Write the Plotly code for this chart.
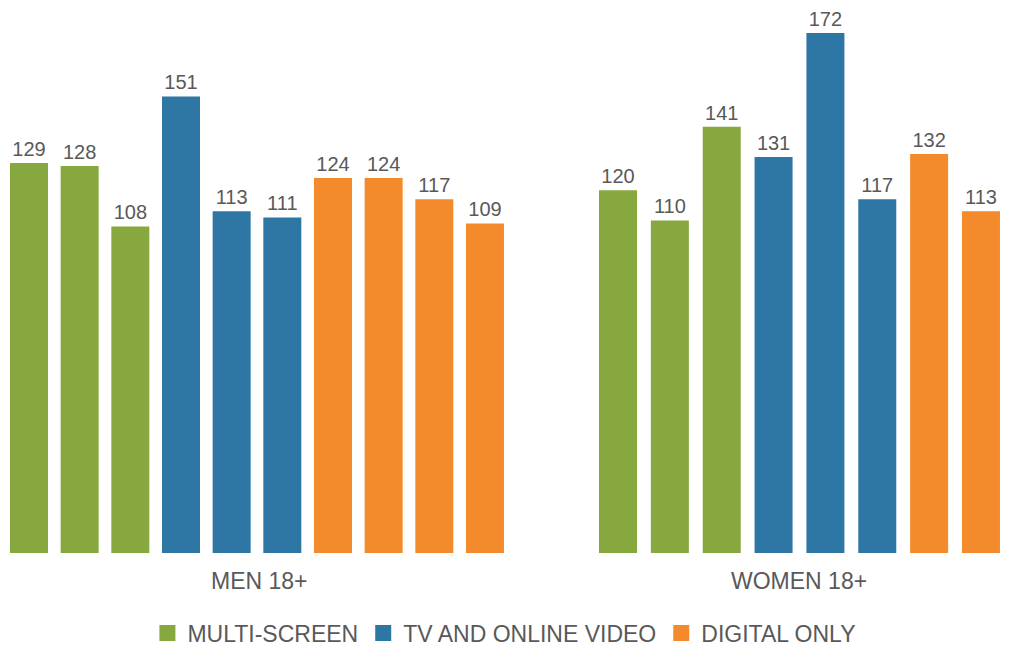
import plotly.graph_objects as go

# ---- data ----
series_names = ["MULTI-SCREEN", "TV AND ONLINE VIDEO", "DIGITAL ONLY"]
series_colors = ["#87A83E", "#2E77A5", "#F38B2D"]
group_labels = ["MEN 18+", "WOMEN 18+"]

men_multi = [129, 128, 108]
men_tv = [151, 113, 111]
men_digital = [124, 124, 117, 109]

women_multi = [120, 110, 141]
women_tv = [131, 172, 117]
women_digital = [132, 113]

men_series = [men_multi, men_tv, men_digital]
women_series = [women_multi, women_tv, women_digital]

TEXT_COLOR = "#595959"
FONT = "Liberation Sans, Arial, sans-serif"

fig = go.Figure()


def add_group(series_list, prefix, xaxis, yaxis, width):
    idx = 0
    for s_i, vals in enumerate(series_list):
        cats = []
        for _ in vals:
            idx += 1
            cats.append(f"{prefix}{idx}")
        fig.add_trace(go.Bar(
            x=cats, y=vals, xaxis=xaxis, yaxis=yaxis,
            marker=dict(color=series_colors[s_i], line=dict(width=0)),
            width=width,
            texttemplate="%{y}", textposition="outside",
            textfont=dict(size=20, color=TEXT_COLOR, family=FONT),
            cliponaxis=False, showlegend=False, hoverinfo="x+y",
            name=series_names[s_i],
        ))


add_group(men_series, "M", "x", "y", 0.75)
add_group(women_series, "W", "x2", "y2", 0.733)

# legend-only traces (square markers)
for name, color in zip(series_names, series_colors):
    fig.add_trace(go.Scatter(
        x=[None], y=[None], mode="markers", name=name,
        marker=dict(symbol="square", size=18, color=color),
        showlegend=True,
    ))

YMAX = 180.27
fig.update_layout(
    width=1001, height=640,
    margin=dict(l=0, r=0, t=0, b=95, autoexpand=False),
    paper_bgcolor="white", plot_bgcolor="white",
    barmode="overlay",
    font=dict(family=FONT, color=TEXT_COLOR),
    xaxis=dict(domain=[0.0, 0.5018], range=[-0.4145, 9.5], showticklabels=False,
               showgrid=False, zeroline=False, showline=False, ticks=""),
    xaxis2=dict(domain=[0.5835, 0.9979], range=[-0.5, 7.5], showticklabels=False,
                showgrid=False, zeroline=False, showline=False, ticks="", anchor="y2"),
    yaxis=dict(range=[0, YMAX], visible=False),
    yaxis2=dict(range=[0, YMAX], visible=False, anchor="x2"),
    legend=dict(orientation="h", x=0.4959, xanchor="center", y=-0.1468, yanchor="middle",
                font=dict(size=23, color=TEXT_COLOR, family=FONT),
                itemsizing="trace", itemwidth=30, tracegroupgap=0),
    annotations=[
        dict(text=group_labels[0], xref="x domain", yref="paper", x=0.5, y=-0.0505,
             xanchor="center", yanchor="middle", showarrow=False,
             font=dict(size=23, color=TEXT_COLOR, family=FONT)),
        dict(text=group_labels[1], xref="x2 domain", yref="paper", x=0.5, y=-0.0505,
             xanchor="center", yanchor="middle", showarrow=False,
             font=dict(size=23, color=TEXT_COLOR, family=FONT)),
    ],
)

fig.write_html("out.html")
